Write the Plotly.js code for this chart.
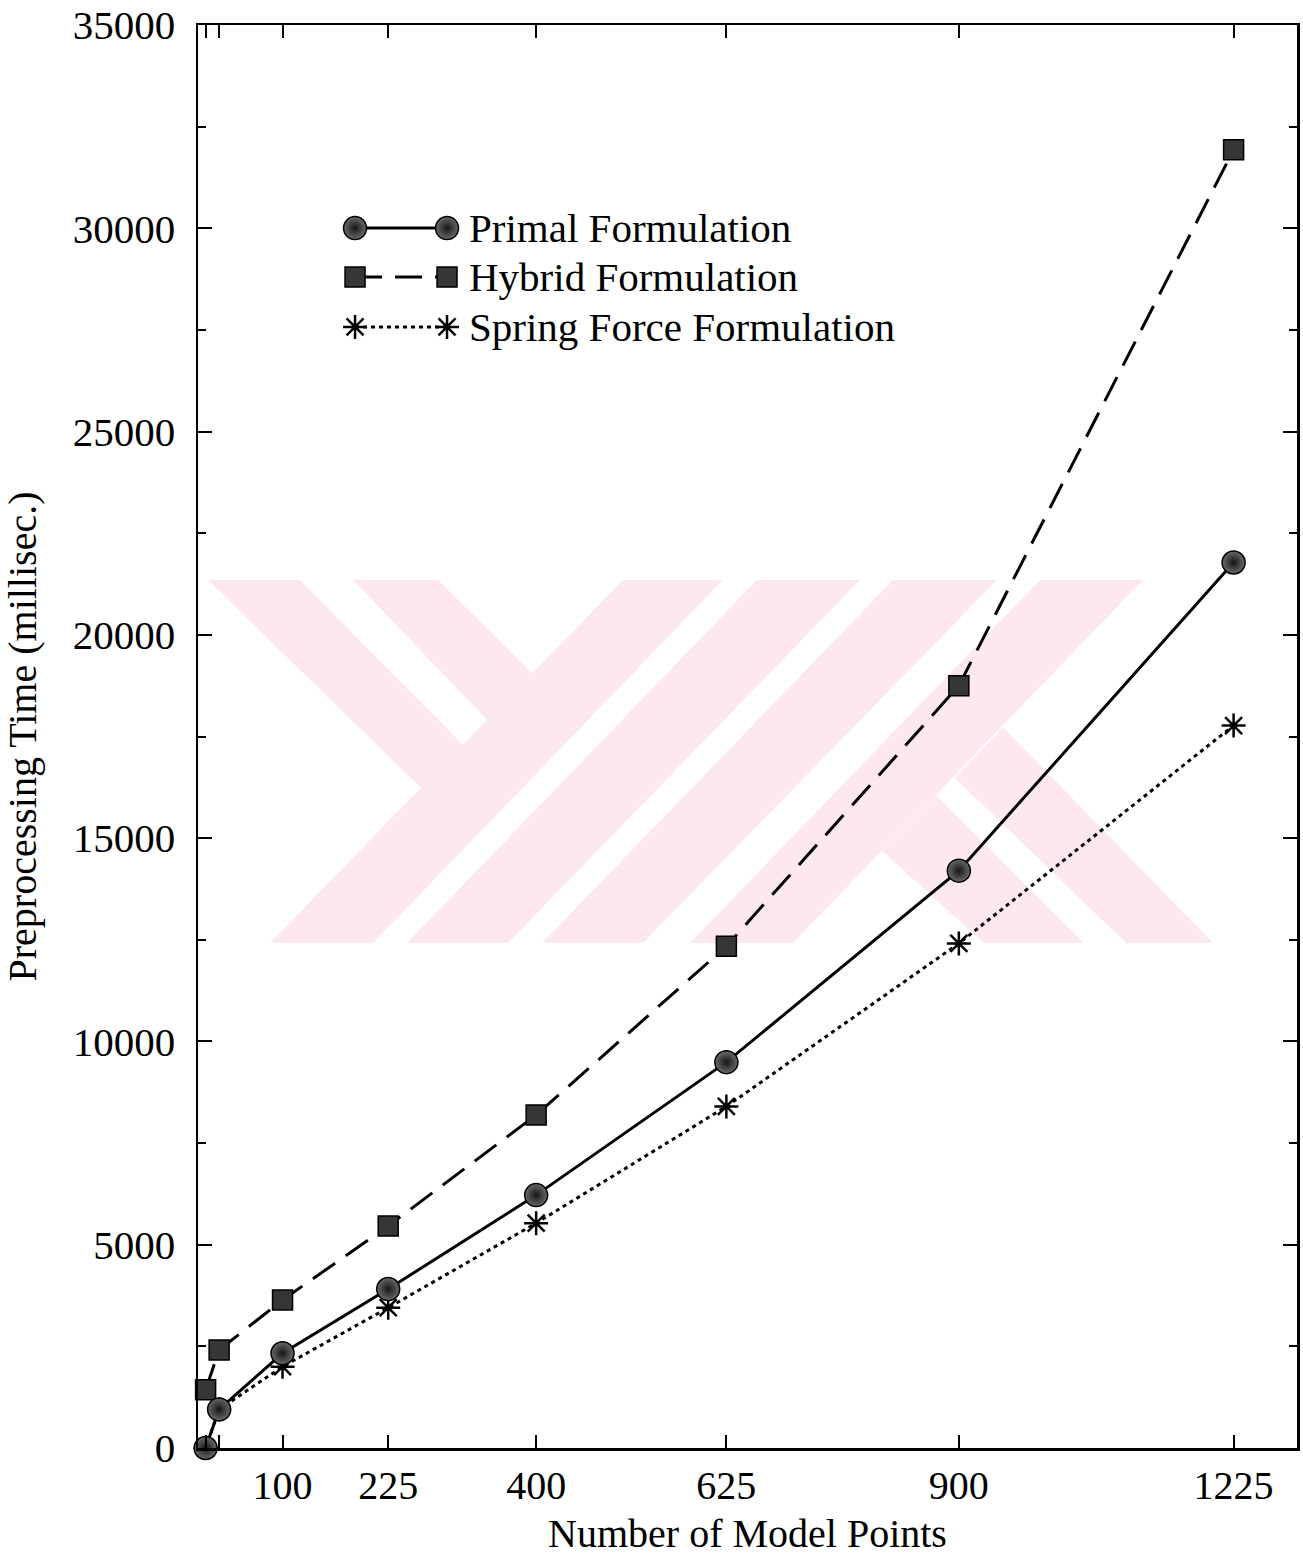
<!DOCTYPE html>
<html>
<head>
<meta charset="utf-8">
<script src="https://cdn.plot.ly/plotly-3.0.1.min.js"></script>
<style>html,body{margin:0;padding:0;background:#fff;}</style>
</head>
<body>
<div id="chart" style="width:1303px;height:1556px;"></div>
<script>
// ---------------- data ----------------
const modelPoints = [9, 25, 100, 225, 400, 625, 900, 1225];
const primalTime  = [0, 950, 2330, 3910, 6220, 9490, 14200, 21780];
const hybridTime  = [1430, 2410, 3640, 5460, 8190, 12340, 18750, 31930];
const springTime  = [0, 950, 2000, 3450, 5530, 8400, 12410, 17770];
const xTickLabels = ['', '', '100', '225', '400', '625', '900', '1225'];
const yTickValues = [0, 5000, 10000, 15000, 20000, 25000, 30000, 35000];
const seriesNames = ['Primal Formulation', 'Hybrid Formulation', 'Spring Force Formulation'];

// ---------------- styles ----------------
const FONT = 'Liberation Serif, Times New Roman, serif';
const W = 1303, H = 1556;
const M = {l: 198, r: 6, t: 25, b: 108};
const PW = W - M.l - M.r, PH = H - M.t - M.b;

const circleMarker = {symbol: 'circle', size: 23, color: '#6a6a6a',
  gradient: {type: 'radial', color: '#161616'}, line: {color: '#000', width: 1.5}};
const squareMarker = {symbol: 'square', size: 20, color: '#363636', line: {color: '#000', width: 1.5}};
const starMarker = {symbol: 'asterisk-open', size: 20, color: '#000', line: {color: '#000', width: 2.5}};

const primalLine = {color: '#000', width: 3};
const hybridLine = {color: '#000', width: 3, dash: '27px,13px'};
const springLine = {color: '#000', width: 3, dash: '4px,4px'};

// ---------------- series traces ----------------
const traces = [
  {x: modelPoints, y: hybridTime, name: seriesNames[1], mode: 'lines+markers',
   line: hybridLine, marker: squareMarker, cliponaxis: false, showlegend: false},
  {x: modelPoints, y: springTime, name: seriesNames[2], mode: 'lines+markers',
   line: springLine, marker: starMarker, cliponaxis: false, showlegend: false},
  {x: modelPoints, y: primalTime, name: seriesNames[0], mode: 'lines+markers',
   line: primalLine, marker: circleMarker, cliponaxis: false, showlegend: false}
];

// ---------------- legend (drawn as key samples in paper space) ----------------
const legendKeyX = [0.1429, 0.2266];
const legendRowsY = [0.8573, 0.8229, 0.7878];
const legendTextX = 0.2450;
const legendStyles = [
  {line: primalLine, marker: circleMarker},
  {line: hybridLine, marker: squareMarker},
  {line: springLine, marker: starMarker}
];
seriesNames.forEach((nm, i) => {
  traces.push({x: legendKeyX, y: [legendRowsY[i], legendRowsY[i]], xaxis: 'x2', yaxis: 'y2',
    mode: 'lines+markers', line: legendStyles[i].line, marker: legendStyles[i].marker,
    showlegend: false, hoverinfo: 'skip', cliponaxis: false});
});
const annotations = seriesNames.map((nm, i) => ({
  xref: 'paper', yref: 'paper', x: legendTextX, y: legendRowsY[i], xanchor: 'left', yanchor: 'middle',
  text: nm, showarrow: false, font: {family: FONT, size: 41, color: '#000'}
}));

// ---------------- watermark (background decoration, pixel outline -> paper) ----------------
const wmPolys = [
  [[208,580],[300,580],[466,748],[424,791]],
  [[353,580],[438,580],[535,676],[490,723]],
  [[270,943],[373,943],[723,580],[623,580]],
  [[407,943],[508,943],[860,580],[757,580]],
  [[542,943],[643,943],[997,580],[893,580]],
  [[690,943],[793,943],[1143,580],[1040,580]],
  [[882,851],[936,795],[1084,943],[984,943]],
  [[955,778],[1003,727],[1213,943],[1126,943]]
];
const px2paper = p => [((p[0] - M.l) / PW).toFixed(5), ((H - M.b - p[1]) / PH).toFixed(5)];
const shapes = wmPolys.map(poly => ({
  type: 'path', xref: 'paper', yref: 'paper', layer: 'below',
  path: 'M' + poly.map(p => px2paper(p).join(',')).join('L') + 'Z',
  fillcolor: '#fde9ed', line: {width: 0}
}));

const layout = {
  width: W, height: H,
  margin: M,
  paper_bgcolor: '#fff', plot_bgcolor: 'rgba(0,0,0,0)',
  font: {family: FONT, color: '#000', size: 40},
  showlegend: false,
  xaxis: {
    range: [0, 1300], tickvals: modelPoints, ticktext: xTickLabels,
    ticks: 'inside', ticklen: 13, tickwidth: 2, tickcolor: '#000',
    showline: true, linecolor: '#000', linewidth: 2.5, mirror: 'ticks',
    showgrid: false, zeroline: false,
    tickfont: {family: FONT, size: 40, color: '#000'},
    ticklabelstandoff: 0,
    title: {text: 'Number of Model Points', font: {family: FONT, size: 40, color: '#000'}, standoff: 26}
  },
  yaxis: {
    range: [0, 35000], tickvals: yTickValues, tickformat: 'd',
    ticks: 'inside', ticklen: 14, tickwidth: 2, tickcolor: '#000',
    minor: {dtick: 2500, ticks: 'inside', ticklen: 8, tickwidth: 2, tickcolor: '#000'},
    showline: true, linecolor: '#000', linewidth: 2.5, mirror: 'ticks',
    showgrid: false, zeroline: false,
    tickfont: {family: FONT, size: 41, color: '#000'},
    ticklabelstandoff: 12,
    title: {text: 'Preprocessing Time (millisec.)', font: {family: FONT, size: 40, color: '#000'}, standoff: 80}
  },
  xaxis2: {overlaying: 'x', range: [0, 1], visible: false, fixedrange: true},
  yaxis2: {overlaying: 'y', range: [0, 1], visible: false, fixedrange: true},
  shapes: shapes,
  annotations: annotations
};

Plotly.newPlot('chart', traces, layout, {displayModeBar: false, staticPlot: true});
</script>
</body>
</html>
